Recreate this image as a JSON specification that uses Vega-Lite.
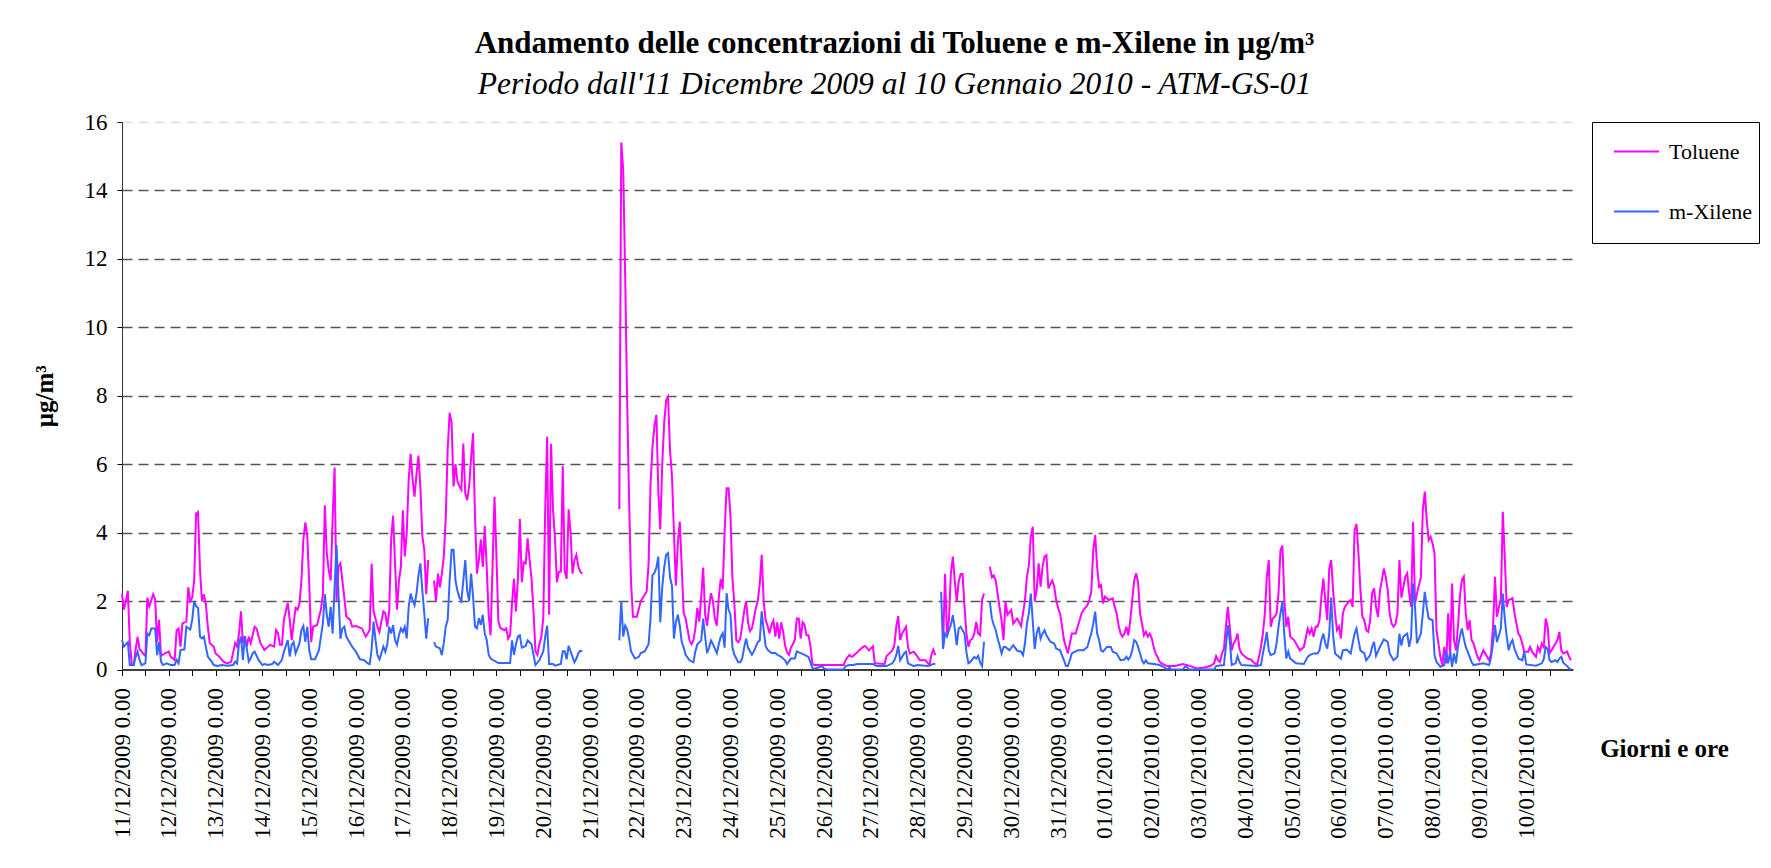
{
"$schema": "https://vega.github.io/schema/vega-lite/v6.json",
"width": 1451, "height": 547.5,
"autosize": {"type": "none"},
"padding": {"left": 122, "top": 122, "right": 198, "bottom": 198.5},
"background": "#ffffff",
"config": {"view": {"stroke": null}},
"title": {"text": "Andamento delle concentrazioni di Toluene e m-Xilene in μg/m³", "subtitle": "Periodo dall'11 Dicembre 2009 al 10 Gennaio 2010 - ATM-GS-01", "anchor": "middle", "frame": "group", "dx": 47, "offset": 10, "font": "Liberation Serif", "fontSize": 31, "fontWeight": "bold", "color": "#000000", "subtitleFont": "Liberation Serif", "subtitleFontSize": 31.5, "subtitleFontStyle": "italic", "subtitleColor": "#000000", "subtitlePadding": 9},
"encoding": {
 "x": {"field": "h", "type": "quantitative", "scale": {"domain": [0, 744], "nice": false, "zero": false},
  "axis": {"title": "Giorni e ore", "titleFont": "Liberation Serif", "titleFontSize": 25, "titleFontWeight": "bold", "titleColor": "#000000", "titleX": 1542, "titleY": 79, "titleAlign": "center", "titleBaseline": "middle", "titleAngle": 0,
   "values": [0,12,24,36,48,60,72,84,96,108,120,132,144,156,168,180,192,204,216,228,240,252,264,276,288,300,312,324,336,348,360,372,384,396,408,420,432,444,456,468,480,492,504,516,528,540,552,564,576,588,600,612,624,636,648,660,672,684,696,708,720,732],
   "labelExpr": "datum.value % 24 === 0 ? timeFormat(datetime(2009, 11, 11 + datum.value / 24), '%d/%m/%Y') + ' 0.00' : ''",
   "labelAngle": 270, "labelFont": "Liberation Serif", "labelFontSize": 23, "labelColor": "#000000", "labelPadding": 12, "labelOverlap": false, "labelBound": false, "labelFlush": false,
   "tickSize": 6, "tickColor": "#000000", "tickWidth": 1, "domainColor": "#000000", "domainWidth": 1.5, "grid": false}},
 "y": {"field": "v", "type": "quantitative", "scale": {"domain": [0, 16], "nice": false},
  "axis": {"title": "μg/m³", "titleFont": "Liberation Serif", "titleFontSize": 25, "titleFontWeight": "bold", "titleColor": "#000000", "titlePadding": 27,
   "values": [0,2,4,6,8,10,12,14,16], "format": "d", "labelFont": "Liberation Serif", "labelFontSize": 23, "labelColor": "#000000", "labelPadding": 10, "labelBound": false, "labelFlush": false,
   "tickSize": 5, "tickColor": "#000000", "domainColor": "#333333", "domainWidth": 1,
   "grid": true, "gridDash": [10, 6], "gridWidth": 1.4,
   "gridColor": {"condition": {"test": "datum.value === 16", "value": "#dcdcdc"}, "value": "#555555"},
   "gridOpacity": {"condition": {"test": "datum.value === 0", "value": 0}, "value": 1}}}
},
"layer": [
 {"data": {"values": [
{"h":0,"v":2.2},{"h":1,"v":1.75},{"h":2,"v":2.0},{"h":3,"v":2.3},{"h":4,"v":0.8},{"h":5,"v":0.15},{"h":6,"v":0.13},{"h":7,"v":0.6},{"h":8,"v":0.95},{"h":9,"v":0.6},{"h":11,"v":0.45},{"h":12,"v":0.4},{"h":13,"v":2.1},{"h":14,"v":1.85},{"h":16,"v":2.2},{"h":17,"v":2.05},{"h":18,"v":0.8},{"h":19,"v":1.45},{"h":20,"v":0.4},{"h":22,"v":0.47},{"h":24,"v":0.52},{"h":25,"v":0.37},{"h":27,"v":0.28},{"h":28,"v":1.15},{"h":29,"v":1.2},{"h":30,"v":0.67},{"h":31,"v":1.35},{"h":33,"v":1.4},{"h":34,"v":2.4},{"h":35,"v":2.0},{"h":36,"v":2.1},{"h":37,"v":2.6},{"h":38,"v":4.55},{"h":39,"v":4.6},{"h":40,"v":2.9},{"h":41,"v":2.0},{"h":42,"v":2.2},{"h":43,"v":1.9},{"h":44,"v":1.25},{"h":45,"v":0.77},{"h":47,"v":0.67},{"h":48,"v":0.47},{"h":50,"v":0.37},{"h":52,"v":0.23},{"h":54,"v":0.18},{"h":56,"v":0.23},{"h":58,"v":0.77},{"h":59,"v":0.67},{"h":60,"v":1.06},{"h":61,"v":1.7},{"h":62,"v":0.77},{"h":63,"v":0.96},{"h":64,"v":0.67},{"h":65,"v":0.96},{"h":66,"v":0.77},{"h":68,"v":1.25},{"h":69,"v":1.2},{"h":71,"v":0.77},{"h":73,"v":0.57},{"h":74,"v":0.62},{"h":76,"v":0.72},{"h":78,"v":0.67},{"h":79,"v":1.15},{"h":80,"v":1.06},{"h":81,"v":0.72},{"h":82,"v":0.72},{"h":83,"v":1.45},{"h":85,"v":1.95},{"h":86,"v":1.45},{"h":87,"v":0.86},{"h":88,"v":1.35},{"h":89,"v":1.8},{"h":90,"v":1.75},{"h":91,"v":1.93},{"h":92,"v":2.6},{"h":93,"v":3.8},{"h":94,"v":4.3},{"h":95,"v":3.9},{"h":96,"v":2.5},{"h":97,"v":0.8},{"h":98,"v":1.25},{"h":100,"v":1.3},{"h":102,"v":1.75},{"h":103,"v":2.2},{"h":104,"v":4.8},{"h":105,"v":3.4},{"h":106,"v":2.9},{"h":107,"v":2.6},{"h":108,"v":4.4},{"h":109,"v":5.9},{"h":110,"v":2.0},{"h":111,"v":3.0},{"h":112,"v":3.1},{"h":113,"v":2.6},{"h":114,"v":2.1},{"h":115,"v":1.55},{"h":117,"v":1.45},{"h":118,"v":1.25},{"h":120,"v":1.27},{"h":123,"v":1.2},{"h":125,"v":0.96},{"h":127,"v":1.15},{"h":128,"v":3.1},{"h":129,"v":1.7},{"h":131,"v":1.25},{"h":132,"v":1.1},{"h":134,"v":1.7},{"h":135,"v":1.65},{"h":136,"v":1.25},{"h":137,"v":1.7},{"h":138,"v":3.8},{"h":139,"v":4.5},{"h":140,"v":3.1},{"h":141,"v":1.75},{"h":142,"v":2.6},{"h":143,"v":3.0},{"h":144,"v":4.65},{"h":145,"v":3.3},{"h":146,"v":4.0},{"h":147,"v":5.55},{"h":148,"v":6.3},{"h":149,"v":5.55},{"h":150,"v":5.05},{"h":151,"v":5.7},{"h":152,"v":6.25},{"h":153,"v":5.3},{"h":154,"v":3.9},{"h":155,"v":3.5},{"h":156,"v":2.2},{"h":157,"v":3.2},{"h":158,"v":null},{"h":160,"v":2.6},{"h":161,"v":2.0},{"h":162,"v":2.8},{"h":163,"v":2.4},{"h":164,"v":2.8},{"h":165,"v":3.3},{"h":166,"v":4.45},{"h":167,"v":6.45},{"h":168,"v":7.5},{"h":169,"v":7.2},{"h":170,"v":5.35},{"h":171,"v":6.0},{"h":172,"v":5.5},{"h":173,"v":5.35},{"h":174,"v":5.25},{"h":175,"v":6.6},{"h":176,"v":5.15},{"h":177,"v":4.95},{"h":178,"v":5.35},{"h":179,"v":6.2},{"h":180,"v":6.9},{"h":181,"v":4.5},{"h":182,"v":2.8},{"h":183,"v":3.2},{"h":184,"v":3.8},{"h":185,"v":3.0},{"h":186,"v":4.2},{"h":187,"v":3.0},{"h":188,"v":1.6},{"h":189,"v":1.0},{"h":190,"v":3.0},{"h":191,"v":5.05},{"h":192,"v":3.3},{"h":193,"v":1.4},{"h":194,"v":1.22},{"h":196,"v":1.15},{"h":197,"v":1.2},{"h":198,"v":0.9},{"h":199,"v":1.0},{"h":200,"v":1.95},{"h":201,"v":2.65},{"h":202,"v":1.7},{"h":203,"v":2.65},{"h":204,"v":4.4},{"h":205,"v":2.55},{"h":206,"v":3.13},{"h":207,"v":3.1},{"h":208,"v":3.83},{"h":209,"v":3.2},{"h":210,"v":2.65},{"h":211,"v":1.7},{"h":212,"v":0.53},{"h":213,"v":0.43},{"h":214,"v":0.74},{"h":215,"v":0.95},{"h":216,"v":1.49},{"h":217,"v":4.68},{"h":218,"v":6.8},{"h":219,"v":1.6},{"h":220,"v":6.6},{"h":221,"v":4.68},{"h":222,"v":3.83},{"h":223,"v":2.55},{"h":224,"v":2.86},{"h":225,"v":2.86},{"h":226,"v":5.95},{"h":227,"v":2.86},{"h":228,"v":2.65},{"h":229,"v":4.68},{"h":230,"v":4.0},{"h":231,"v":2.8},{"h":232,"v":3.2},{"h":233,"v":3.35},{"h":234,"v":3.0},{"h":235,"v":2.86},{"h":236,"v":2.8},{"h":237,"v":null},{"h":255,"v":4.68},{"h":256,"v":15.4},{"h":257,"v":14.6},{"h":258,"v":11.5},{"h":259,"v":7.9},{"h":260,"v":5.0},{"h":261,"v":2.55},{"h":262,"v":1.54},{"h":264,"v":1.54},{"h":266,"v":2.0},{"h":269,"v":2.28},{"h":270,"v":3.08},{"h":271,"v":5.4},{"h":272,"v":6.5},{"h":273,"v":7.12},{"h":274,"v":7.44},{"h":275,"v":5.2},{"h":276,"v":4.09},{"h":277,"v":6.0},{"h":278,"v":7.2},{"h":279,"v":7.87},{"h":280,"v":7.97},{"h":281,"v":6.4},{"h":282,"v":5.64},{"h":283,"v":4.04},{"h":284,"v":2.45},{"h":285,"v":3.7},{"h":286,"v":4.32},{"h":287,"v":3.0},{"h":288,"v":1.65},{"h":289,"v":1.49},{"h":290,"v":1.17},{"h":291,"v":0.85},{"h":292,"v":0.74},{"h":293,"v":0.85},{"h":294,"v":1.2},{"h":295,"v":1.8},{"h":296,"v":1.4},{"h":297,"v":2.13},{"h":298,"v":2.98},{"h":299,"v":1.6},{"h":300,"v":1.28},{"h":301,"v":1.8},{"h":302,"v":2.23},{"h":303,"v":2.0},{"h":304,"v":1.49},{"h":305,"v":1.28},{"h":306,"v":2.1},{"h":307,"v":2.65},{"h":308,"v":2.34},{"h":309,"v":4.04},{"h":310,"v":5.3},{"h":311,"v":5.3},{"h":312,"v":4.47},{"h":313,"v":2.65},{"h":314,"v":1.91},{"h":315,"v":0.85},{"h":316,"v":0.8},{"h":317,"v":0.9},{"h":318,"v":1.28},{"h":319,"v":1.7},{"h":320,"v":2.0},{"h":321,"v":1.38},{"h":322,"v":1.12},{"h":323,"v":1.2},{"h":324,"v":1.49},{"h":325,"v":1.8},{"h":326,"v":2.0},{"h":327,"v":2.5},{"h":328,"v":3.35},{"h":329,"v":2.0},{"h":330,"v":1.45},{"h":331,"v":1.28},{"h":332,"v":1.06},{"h":333,"v":1.3},{"h":334,"v":1.43},{"h":335,"v":0.96},{"h":336,"v":1.38},{"h":337,"v":0.9},{"h":338,"v":1.38},{"h":339,"v":1.1},{"h":340,"v":0.7},{"h":341,"v":0.5},{"h":342,"v":0.43},{"h":343,"v":0.64},{"h":344,"v":0.74},{"h":345,"v":0.88},{"h":346,"v":1.49},{"h":347,"v":1.49},{"h":348,"v":0.9},{"h":349,"v":1.38},{"h":350,"v":1.3},{"h":351,"v":1.0},{"h":352,"v":1.0},{"h":353,"v":0.69},{"h":354,"v":0.16},{"h":355,"v":0.13},{"h":370,"v":0.13},{"h":371,"v":0.27},{"h":373,"v":0.43},{"h":374,"v":0.37},{"h":375,"v":0.4},{"h":377,"v":0.5},{"h":378,"v":0.56},{"h":380,"v":0.66},{"h":381,"v":0.69},{"h":383,"v":0.56},{"h":385,"v":0.68},{"h":386,"v":0.18},{"h":391,"v":0.16},{"h":392,"v":0.39},{"h":395,"v":0.56},{"h":396,"v":0.7},{"h":397,"v":1.25},{"h":398,"v":1.56},{"h":399,"v":0.86},{"h":400,"v":1.05},{"h":402,"v":1.25},{"h":403,"v":0.66},{"h":404,"v":0.47},{"h":406,"v":0.52},{"h":408,"v":0.37},{"h":409,"v":0.27},{"h":412,"v":0.27},{"h":414,"v":0.13},{"h":415,"v":0.42},{"h":416,"v":0.58},{"h":417,"v":0.42},{"h":418,"v":null},{"h":421,"v":0.66},{"h":422,"v":2.8},{"h":423,"v":1.05},{"h":424,"v":1.44},{"h":425,"v":2.8},{"h":426,"v":3.3},{"h":427,"v":2.6},{"h":428,"v":1.98},{"h":429,"v":2.56},{"h":430,"v":2.79},{"h":431,"v":2.79},{"h":432,"v":1.83},{"h":433,"v":1.05},{"h":434,"v":0.66},{"h":435,"v":0.86},{"h":436,"v":0.9},{"h":437,"v":1.05},{"h":438,"v":1.39},{"h":439,"v":1.05},{"h":440,"v":1.0},{"h":441,"v":2.03},{"h":442,"v":2.22},{"h":443,"v":null},{"h":445,"v":3.0},{"h":446,"v":2.7},{"h":447,"v":2.75},{"h":448,"v":2.6},{"h":449,"v":2.2},{"h":450,"v":1.8},{"h":451,"v":1.44},{"h":452,"v":0.86},{"h":453,"v":1.98},{"h":454,"v":1.6},{"h":456,"v":1.74},{"h":457,"v":1.34},{"h":459,"v":1.49},{"h":461,"v":1.27},{"h":462,"v":1.64},{"h":463,"v":2.03},{"h":464,"v":2.71},{"h":465,"v":3.05},{"h":466,"v":3.88},{"h":467,"v":4.17},{"h":468,"v":2.0},{"h":469,"v":2.32},{"h":470,"v":3.1},{"h":471,"v":2.42},{"h":472,"v":3.0},{"h":473,"v":3.3},{"h":474,"v":3.34},{"h":475,"v":2.37},{"h":476,"v":2.5},{"h":477,"v":2.6},{"h":478,"v":2.42},{"h":479,"v":2.03},{"h":480,"v":1.79},{"h":481,"v":1.64},{"h":482,"v":1.25},{"h":483,"v":0.86},{"h":484,"v":0.66},{"h":485,"v":0.47},{"h":486,"v":0.76},{"h":487,"v":1.05},{"h":489,"v":1.05},{"h":490,"v":1.25},{"h":491,"v":1.44},{"h":492,"v":1.64},{"h":493,"v":1.74},{"h":495,"v":1.88},{"h":496,"v":2.03},{"h":497,"v":2.27},{"h":498,"v":3.49},{"h":499,"v":3.93},{"h":500,"v":3.0},{"h":501,"v":2.42},{"h":502,"v":2.47},{"h":503,"v":1.93},{"h":504,"v":2.13},{"h":506,"v":2.03},{"h":508,"v":2.08},{"h":509,"v":1.83},{"h":510,"v":1.64},{"h":511,"v":1.29},{"h":512,"v":1.05},{"h":513,"v":0.96},{"h":514,"v":1.05},{"h":515,"v":1.25},{"h":516,"v":1.0},{"h":517,"v":1.44},{"h":518,"v":2.03},{"h":519,"v":2.6},{"h":520,"v":2.81},{"h":521,"v":2.55},{"h":522,"v":1.64},{"h":523,"v":1.34},{"h":524,"v":1.0},{"h":525,"v":1.1},{"h":526,"v":0.96},{"h":527,"v":1.05},{"h":528,"v":0.91},{"h":529,"v":0.66},{"h":530,"v":0.47},{"h":531,"v":0.37},{"h":532,"v":0.23},{"h":533,"v":0.18},{"h":536,"v":0.1},{"h":540,"v":0.1},{"h":544,"v":0.16},{"h":548,"v":0.1},{"h":551,"v":0.03},{"h":555,"v":0.06},{"h":558,"v":0.1},{"h":560,"v":0.18},{"h":561,"v":0.39},{"h":562,"v":0.27},{"h":563,"v":0.22},{"h":564,"v":0.47},{"h":565,"v":0.6},{"h":566,"v":1.25},{"h":567,"v":1.83},{"h":568,"v":1.25},{"h":569,"v":0.56},{"h":570,"v":0.76},{"h":571,"v":0.86},{"h":572,"v":1.05},{"h":573,"v":0.6},{"h":574,"v":0.47},{"h":575,"v":0.42},{"h":577,"v":0.32},{"h":579,"v":0.29},{"h":580,"v":0.22},{"h":582,"v":0.13},{"h":583,"v":0.37},{"h":584,"v":0.66},{"h":585,"v":1.05},{"h":586,"v":1.64},{"h":587,"v":2.71},{"h":588,"v":3.2},{"h":589,"v":1.25},{"h":590,"v":1.49},{"h":591,"v":1.54},{"h":592,"v":1.64},{"h":593,"v":2.22},{"h":594,"v":3.49},{"h":595,"v":3.62},{"h":596,"v":2.03},{"h":597,"v":1.25},{"h":598,"v":1.54},{"h":599,"v":0.96},{"h":601,"v":0.86},{"h":603,"v":0.66},{"h":604,"v":0.56},{"h":606,"v":0.66},{"h":608,"v":1.2},{"h":609,"v":1.05},{"h":610,"v":1.2},{"h":611,"v":0.96},{"h":612,"v":1.25},{"h":613,"v":1.25},{"h":614,"v":1.44},{"h":615,"v":2.13},{"h":616,"v":2.66},{"h":617,"v":2.03},{"h":618,"v":1.44},{"h":619,"v":2.95},{"h":620,"v":3.2},{"h":621,"v":2.3},{"h":622,"v":1.64},{"h":623,"v":1.15},{"h":624,"v":1.25},{"h":625,"v":0.91},{"h":626,"v":1.64},{"h":627,"v":1.83},{"h":629,"v":1.98},{"h":630,"v":2.03},{"h":631,"v":1.83},{"h":632,"v":4.07},{"h":633,"v":4.25},{"h":634,"v":3.39},{"h":635,"v":2.32},{"h":636,"v":1.54},{"h":637,"v":1.44},{"h":638,"v":1.15},{"h":639,"v":1.1},{"h":640,"v":1.44},{"h":641,"v":2.22},{"h":642,"v":2.37},{"h":643,"v":1.83},{"h":644,"v":1.54},{"h":645,"v":2.3},{"h":646,"v":2.61},{"h":647,"v":2.95},{"h":648,"v":2.7},{"h":649,"v":2.32},{"h":650,"v":1.64},{"h":651,"v":1.34},{"h":652,"v":1.25},{"h":653,"v":1.34},{"h":654,"v":1.64},{"h":655,"v":3.2},{"h":656,"v":2.1},{"h":657,"v":2.4},{"h":658,"v":2.71},{"h":659,"v":2.81},{"h":660,"v":2.22},{"h":661,"v":1.83},{"h":662,"v":4.32},{"h":663,"v":1.93},{"h":664,"v":2.22},{"h":666,"v":2.7},{"h":667,"v":4.66},{"h":668,"v":5.2},{"h":669,"v":4.37},{"h":670,"v":3.78},{"h":671,"v":3.88},{"h":672,"v":3.68},{"h":673,"v":3.39},{"h":674,"v":1.15},{"h":675,"v":0.76},{"h":676,"v":0.37},{"h":677,"v":0.13},{"h":678,"v":0.66},{"h":679,"v":0.18},{"h":680,"v":1.64},{"h":681,"v":0.37},{"h":682,"v":2.51},{"h":683,"v":0.86},{"h":684,"v":0.56},{"h":685,"v":1.25},{"h":686,"v":2.13},{"h":687,"v":2.61},{"h":688,"v":2.71},{"h":689,"v":1.64},{"h":690,"v":1.15},{"h":691,"v":1.44},{"h":692,"v":0.86},{"h":693,"v":0.76},{"h":695,"v":0.37},{"h":696,"v":0.27},{"h":697,"v":0.42},{"h":698,"v":0.56},{"h":700,"v":0.37},{"h":701,"v":0.27},{"h":702,"v":0.47},{"h":703,"v":1.25},{"h":704,"v":2.71},{"h":705,"v":1.54},{"h":706,"v":1.83},{"h":707,"v":2.03},{"h":708,"v":4.61},{"h":709,"v":3.3},{"h":710,"v":1.83},{"h":711,"v":2.03},{"h":713,"v":2.08},{"h":714,"v":1.64},{"h":715,"v":1.34},{"h":716,"v":1.05},{"h":717,"v":0.96},{"h":718,"v":0.76},{"h":719,"v":0.52},{"h":721,"v":0.52},{"h":722,"v":0.66},{"h":723,"v":0.52},{"h":725,"v":0.37},{"h":726,"v":0.66},{"h":727,"v":0.52},{"h":728,"v":0.76},{"h":729,"v":0.66},{"h":730,"v":1.49},{"h":731,"v":1.25},{"h":732,"v":0.47},{"h":733,"v":0.56},{"h":734,"v":0.66},{"h":736,"v":0.86},{"h":737,"v":1.1},{"h":738,"v":0.56},{"h":739,"v":0.47},{"h":741,"v":0.52},{"h":742,"v":0.37},{"h":743,"v":0.27}
 ]},
 "mark": {"type": "line", "strokeWidth": 2, "invalid": "break-paths-show-domains"},
 "encoding": {"color": {"datum": "Toluene", "type": "nominal", "scale": {"domain": ["Toluene", "m-Xilene"], "range": ["#ff00ff", "#3366ff"]},
  "legend": {"title": " ", "titleOrient": "bottom", "titleFontSize": 10, "titlePadding": 4, "orient": "right", "offset": 19, "padding": 6, "strokeColor": "#000000", "fillColor": "#ffffff", "symbolType": "stroke", "symbolSize": 2025, "symbolStrokeWidth": 2, "symbolOffset": 15, "labelOffset": 9, "labelFont": "Liberation Serif", "labelFontSize": 22, "labelColor": "#000000", "rowPadding": 25}}}},
 {"data": {"values": [
{"h":0,"v":0.86},{"h":1,"v":0.67},{"h":3,"v":0.8},{"h":4,"v":0.13},{"h":6,"v":0.13},{"h":7,"v":0.37},{"h":8,"v":0.52},{"h":9,"v":0.28},{"h":10,"v":0.13},{"h":12,"v":0.18},{"h":13,"v":1.05},{"h":14,"v":1.0},{"h":15,"v":1.2},{"h":17,"v":1.2},{"h":18,"v":0.42},{"h":19,"v":0.8},{"h":20,"v":0.23},{"h":21,"v":0.13},{"h":23,"v":0.18},{"h":25,"v":0.13},{"h":27,"v":0.13},{"h":28,"v":0.28},{"h":29,"v":0.18},{"h":30,"v":0.57},{"h":32,"v":0.59},{"h":33,"v":1.25},{"h":35,"v":1.17},{"h":36,"v":1.45},{"h":37,"v":2.0},{"h":38,"v":1.85},{"h":39,"v":1.8},{"h":40,"v":0.96},{"h":41,"v":0.91},{"h":42,"v":0.96},{"h":43,"v":0.67},{"h":44,"v":0.38},{"h":46,"v":0.23},{"h":47,"v":0.13},{"h":49,"v":0.1},{"h":51,"v":0.13},{"h":54,"v":0.11},{"h":57,"v":0.13},{"h":58,"v":0.23},{"h":59,"v":0.18},{"h":60,"v":0.77},{"h":61,"v":0.96},{"h":62,"v":0.28},{"h":63,"v":0.98},{"h":65,"v":0.23},{"h":66,"v":0.33},{"h":67,"v":0.47},{"h":68,"v":0.52},{"h":70,"v":0.28},{"h":72,"v":0.13},{"h":73,"v":0.16},{"h":75,"v":0.13},{"h":77,"v":0.16},{"h":78,"v":0.23},{"h":80,"v":0.13},{"h":82,"v":0.28},{"h":83,"v":0.52},{"h":85,"v":0.86},{"h":86,"v":0.38},{"h":87,"v":0.72},{"h":88,"v":0.8},{"h":89,"v":0.47},{"h":91,"v":0.77},{"h":92,"v":1.15},{"h":93,"v":1.27},{"h":94,"v":0.81},{"h":95,"v":1.25},{"h":96,"v":0.57},{"h":97,"v":0.3},{"h":99,"v":0.3},{"h":101,"v":0.57},{"h":103,"v":1.35},{"h":104,"v":2.2},{"h":105,"v":1.6},{"h":106,"v":1.25},{"h":107,"v":1.83},{"h":108,"v":1.05},{"h":109,"v":2.4},{"h":110,"v":3.64},{"h":111,"v":2.2},{"h":112,"v":0.9},{"h":113,"v":1.2},{"h":114,"v":1.25},{"h":115,"v":0.96},{"h":116,"v":0.86},{"h":118,"v":0.67},{"h":120,"v":0.52},{"h":122,"v":0.3},{"h":124,"v":0.28},{"h":126,"v":0.18},{"h":127,"v":0.16},{"h":128,"v":0.59},{"h":129,"v":1.4},{"h":130,"v":0.86},{"h":131,"v":0.42},{"h":132,"v":0.3},{"h":133,"v":0.47},{"h":134,"v":0.67},{"h":135,"v":0.52},{"h":136,"v":0.72},{"h":137,"v":1.25},{"h":138,"v":1.05},{"h":139,"v":1.3},{"h":140,"v":0.86},{"h":141,"v":0.72},{"h":142,"v":1.0},{"h":143,"v":1.2},{"h":144,"v":1.1},{"h":145,"v":1.25},{"h":146,"v":0.91},{"h":147,"v":1.83},{"h":148,"v":2.22},{"h":149,"v":2.03},{"h":150,"v":1.88},{"h":151,"v":2.22},{"h":152,"v":2.75},{"h":153,"v":3.1},{"h":154,"v":2.3},{"h":155,"v":1.64},{"h":156,"v":0.9},{"h":157,"v":1.5},{"h":158,"v":null},{"h":160,"v":0.8},{"h":161,"v":0.67},{"h":163,"v":0.62},{"h":164,"v":0.42},{"h":165,"v":0.77},{"h":166,"v":1.25},{"h":167,"v":1.45},{"h":168,"v":2.6},{"h":169,"v":3.5},{"h":170,"v":3.5},{"h":171,"v":2.6},{"h":172,"v":2.3},{"h":173,"v":2.1},{"h":174,"v":2.0},{"h":175,"v":2.6},{"h":176,"v":3.2},{"h":177,"v":2.3},{"h":178,"v":2.0},{"h":179,"v":2.8},{"h":180,"v":2.13},{"h":181,"v":1.25},{"h":182,"v":1.2},{"h":183,"v":1.5},{"h":184,"v":1.3},{"h":185,"v":1.6},{"h":186,"v":1.05},{"h":187,"v":0.86},{"h":188,"v":0.43},{"h":189,"v":0.32},{"h":193,"v":0.19},{"h":199,"v":0.19},{"h":200,"v":0.85},{"h":201,"v":0.43},{"h":202,"v":0.74},{"h":203,"v":0.96},{"h":204,"v":1.0},{"h":205,"v":0.64},{"h":207,"v":0.69},{"h":208,"v":0.85},{"h":210,"v":0.74},{"h":211,"v":0.43},{"h":212,"v":0.13},{"h":214,"v":0.27},{"h":216,"v":0.53},{"h":217,"v":0.96},{"h":218,"v":1.28},{"h":219,"v":0.16},{"h":221,"v":0.16},{"h":222,"v":0.11},{"h":225,"v":0.16},{"h":226,"v":0.53},{"h":227,"v":0.53},{"h":228,"v":0.3},{"h":229,"v":0.69},{"h":230,"v":0.53},{"h":232,"v":0.21},{"h":233,"v":0.32},{"h":234,"v":0.48},{"h":235,"v":0.55},{"h":236,"v":0.53},{"h":237,"v":null},{"h":255,"v":0.85},{"h":256,"v":2.0},{"h":257,"v":0.96},{"h":258,"v":1.28},{"h":259,"v":1.17},{"h":260,"v":0.9},{"h":261,"v":0.53},{"h":263,"v":0.32},{"h":265,"v":0.37},{"h":266,"v":0.48},{"h":268,"v":0.53},{"h":270,"v":0.74},{"h":271,"v":1.5},{"h":272,"v":2.76},{"h":273,"v":2.82},{"h":274,"v":2.98},{"h":275,"v":3.3},{"h":276,"v":1.38},{"h":277,"v":2.4},{"h":278,"v":2.98},{"h":279,"v":3.35},{"h":280,"v":3.4},{"h":281,"v":2.7},{"h":282,"v":2.45},{"h":283,"v":0.9},{"h":284,"v":1.38},{"h":285,"v":1.6},{"h":286,"v":1.28},{"h":287,"v":0.8},{"h":288,"v":0.64},{"h":289,"v":0.43},{"h":291,"v":0.27},{"h":293,"v":0.21},{"h":294,"v":0.53},{"h":295,"v":0.74},{"h":297,"v":0.85},{"h":298,"v":1.49},{"h":299,"v":0.96},{"h":300,"v":0.48},{"h":301,"v":0.64},{"h":302,"v":0.85},{"h":303,"v":0.74},{"h":305,"v":0.48},{"h":306,"v":0.74},{"h":307,"v":0.96},{"h":308,"v":1.06},{"h":309,"v":0.64},{"h":310,"v":2.23},{"h":311,"v":1.75},{"h":312,"v":1.6},{"h":313,"v":0.64},{"h":314,"v":0.43},{"h":316,"v":0.21},{"h":317,"v":0.21},{"h":318,"v":0.32},{"h":319,"v":0.64},{"h":320,"v":0.9},{"h":321,"v":0.64},{"h":323,"v":0.43},{"h":324,"v":0.53},{"h":326,"v":0.8},{"h":327,"v":0.85},{"h":328,"v":1.7},{"h":329,"v":1.17},{"h":330,"v":0.69},{"h":331,"v":0.58},{"h":333,"v":0.48},{"h":335,"v":0.48},{"h":336,"v":0.43},{"h":338,"v":0.37},{"h":340,"v":0.27},{"h":341,"v":0.16},{"h":343,"v":0.32},{"h":345,"v":0.32},{"h":346,"v":0.53},{"h":348,"v":0.48},{"h":350,"v":0.43},{"h":352,"v":0.37},{"h":353,"v":0.21},{"h":354,"v":0.05},{"h":355,"v":0.02},{"h":359,"v":0.1},{"h":360,"v":0.02},{"h":362,"v":0},{"h":370,"v":0},{"h":371,"v":0.1},{"h":373,"v":0.13},{"h":374,"v":0.13},{"h":375,"v":0.13},{"h":377,"v":0.16},{"h":380,"v":0.16},{"h":385,"v":0.16},{"h":387,"v":0.1},{"h":392,"v":0.1},{"h":395,"v":0.18},{"h":396,"v":0.27},{"h":397,"v":0.42},{"h":398,"v":0.69},{"h":399,"v":0.27},{"h":401,"v":0.47},{"h":402,"v":0.52},{"h":403,"v":0.18},{"h":406,"v":0.1},{"h":408,"v":0.13},{"h":413,"v":0.1},{"h":416,"v":0.16},{"h":417,"v":0.16},{"h":418,"v":null},{"h":420,"v":2.27},{"h":421,"v":0.6},{"h":422,"v":1.05},{"h":423,"v":0.96},{"h":424,"v":1.15},{"h":425,"v":1.3},{"h":426,"v":1.59},{"h":427,"v":1.2},{"h":428,"v":0.71},{"h":429,"v":1.2},{"h":430,"v":1.25},{"h":432,"v":1.05},{"h":433,"v":0.5},{"h":434,"v":0.18},{"h":435,"v":0.22},{"h":437,"v":0.37},{"h":438,"v":0.32},{"h":439,"v":0.4},{"h":440,"v":0.2},{"h":441,"v":0.1},{"h":442,"v":0.81},{"h":443,"v":null},{"h":445,"v":1.98},{"h":446,"v":1.5},{"h":447,"v":1.3},{"h":448,"v":1.15},{"h":449,"v":0.9},{"h":450,"v":0.7},{"h":451,"v":0.47},{"h":452,"v":0.66},{"h":453,"v":0.66},{"h":455,"v":0.56},{"h":457,"v":0.71},{"h":459,"v":0.55},{"h":461,"v":0.52},{"h":462,"v":0.42},{"h":463,"v":0.76},{"h":464,"v":1.34},{"h":465,"v":1.64},{"h":466,"v":2.22},{"h":467,"v":1.4},{"h":468,"v":0.6},{"h":469,"v":1.05},{"h":470,"v":1.25},{"h":471,"v":0.9},{"h":472,"v":1.05},{"h":473,"v":1.15},{"h":474,"v":1.0},{"h":476,"v":0.81},{"h":478,"v":0.76},{"h":479,"v":0.61},{"h":481,"v":0.56},{"h":483,"v":0.27},{"h":484,"v":0.1},{"h":485,"v":0.1},{"h":486,"v":0.27},{"h":487,"v":0.47},{"h":490,"v":0.56},{"h":493,"v":0.56},{"h":495,"v":0.66},{"h":496,"v":0.86},{"h":497,"v":1.05},{"h":498,"v":1.34},{"h":499,"v":1.69},{"h":500,"v":1.05},{"h":501,"v":0.86},{"h":502,"v":0.56},{"h":503,"v":0.52},{"h":505,"v":0.66},{"h":507,"v":0.66},{"h":508,"v":0.52},{"h":510,"v":0.47},{"h":512,"v":0.27},{"h":514,"v":0.29},{"h":515,"v":0.37},{"h":516,"v":0.29},{"h":517,"v":0.37},{"h":518,"v":0.56},{"h":519,"v":0.86},{"h":520,"v":0.81},{"h":521,"v":0.66},{"h":522,"v":0.47},{"h":523,"v":0.27},{"h":524,"v":0.18},{"h":525,"v":0.27},{"h":526,"v":0.18},{"h":529,"v":0.16},{"h":532,"v":0.13},{"h":534,"v":0.08},{"h":536,"v":0},{"h":537,"v":0.06},{"h":538,"v":0},{"h":544,"v":0},{"h":545,"v":0.08},{"h":546,"v":0.08},{"h":547,"v":0},{"h":560,"v":0},{"h":561,"v":0.1},{"h":562,"v":0.11},{"h":565,"v":0.13},{"h":566,"v":0.66},{"h":567,"v":1.3},{"h":568,"v":0.86},{"h":569,"v":0.13},{"h":571,"v":0.18},{"h":572,"v":0.39},{"h":573,"v":0.22},{"h":574,"v":0.13},{"h":582,"v":0.1},{"h":584,"v":0.13},{"h":585,"v":0.47},{"h":586,"v":0.76},{"h":587,"v":1.1},{"h":588,"v":0.56},{"h":589,"v":0.42},{"h":591,"v":0.47},{"h":592,"v":0.76},{"h":593,"v":1.25},{"h":594,"v":1.64},{"h":595,"v":1.98},{"h":596,"v":1.0},{"h":597,"v":0.32},{"h":598,"v":0.52},{"h":599,"v":0.32},{"h":602,"v":0.18},{"h":606,"v":0.16},{"h":608,"v":0.37},{"h":609,"v":0.42},{"h":611,"v":0.47},{"h":613,"v":0.47},{"h":614,"v":0.56},{"h":615,"v":0.86},{"h":616,"v":1.05},{"h":617,"v":0.76},{"h":618,"v":0.61},{"h":619,"v":1.05},{"h":620,"v":2.1},{"h":621,"v":1.0},{"h":622,"v":0.47},{"h":625,"v":0.32},{"h":626,"v":0.56},{"h":628,"v":0.58},{"h":630,"v":0.47},{"h":631,"v":0.76},{"h":632,"v":1.05},{"h":633,"v":1.2},{"h":634,"v":0.86},{"h":635,"v":0.56},{"h":637,"v":0.47},{"h":638,"v":0.27},{"h":640,"v":0.42},{"h":641,"v":0.66},{"h":642,"v":0.81},{"h":643,"v":0.4},{"h":645,"v":0.66},{"h":647,"v":0.88},{"h":649,"v":0.81},{"h":650,"v":0.47},{"h":652,"v":0.27},{"h":654,"v":0.37},{"h":655,"v":1.05},{"h":656,"v":0.7},{"h":657,"v":0.96},{"h":659,"v":1.05},{"h":660,"v":0.66},{"h":661,"v":0.96},{"h":662,"v":2.51},{"h":663,"v":1.83},{"h":664,"v":0.76},{"h":666,"v":1.05},{"h":667,"v":1.64},{"h":668,"v":2.27},{"h":669,"v":1.83},{"h":670,"v":1.49},{"h":672,"v":1.44},{"h":673,"v":0.42},{"h":674,"v":0.22},{"h":676,"v":0.08},{"h":678,"v":0.13},{"h":679,"v":0.52},{"h":680,"v":0.18},{"h":681,"v":0.52},{"h":682,"v":0.08},{"h":683,"v":0.47},{"h":684,"v":0.18},{"h":685,"v":0.66},{"h":686,"v":0.96},{"h":687,"v":1.2},{"h":688,"v":0.91},{"h":689,"v":0.66},{"h":690,"v":0.52},{"h":692,"v":0.22},{"h":693,"v":0.13},{"h":698,"v":0.18},{"h":701,"v":0.13},{"h":702,"v":0.37},{"h":703,"v":0.76},{"h":704,"v":1.3},{"h":705,"v":0.8},{"h":707,"v":1.2},{"h":708,"v":2.22},{"h":709,"v":1.5},{"h":710,"v":0.96},{"h":711,"v":0.56},{"h":712,"v":0.76},{"h":713,"v":0.86},{"h":714,"v":0.6},{"h":716,"v":0.32},{"h":718,"v":0.27},{"h":719,"v":0.52},{"h":720,"v":0.15},{"h":725,"v":0.11},{"h":728,"v":0.18},{"h":729,"v":0.3},{"h":730,"v":0.66},{"h":731,"v":0.6},{"h":732,"v":0.27},{"h":733,"v":0.22},{"h":735,"v":0.27},{"h":736,"v":0.22},{"h":737,"v":0.32},{"h":738,"v":0.37},{"h":739,"v":0.2},{"h":741,"v":0.1},{"h":742,"v":0.03},{"h":743,"v":0}
 ]},
 "mark": {"type": "line", "strokeWidth": 2, "invalid": "break-paths-show-domains"},
 "encoding": {"color": {"datum": "m-Xilene", "type": "nominal"}}}
]
}
